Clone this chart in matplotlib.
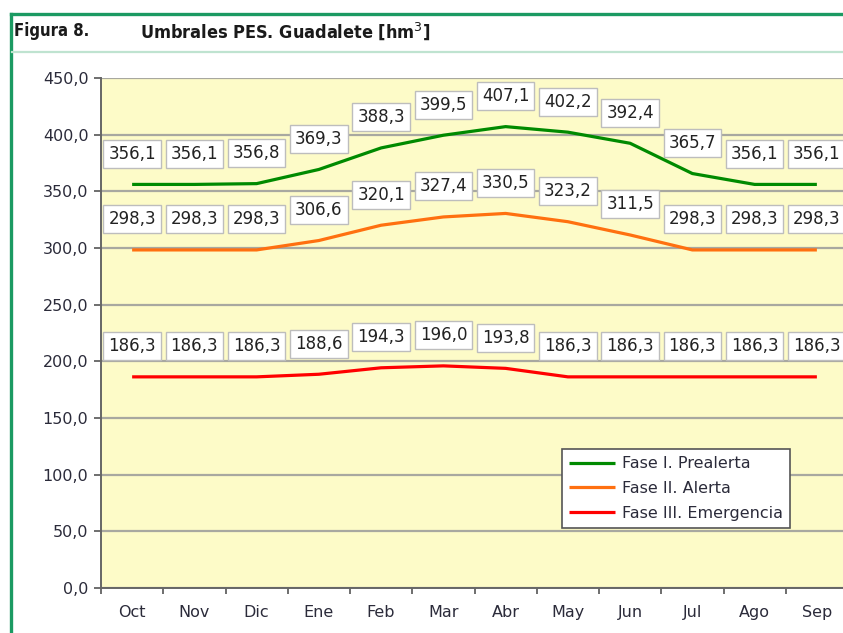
import matplotlib.pyplot as plt
from matplotlib.lines import Line2D

months = ["Oct", "Nov", "Dic", "Ene", "Feb", "Mar", "Abr", "May", "Jun", "Jul", "Ago", "Sep"]
prealerta = [356.1, 356.1, 356.8, 369.3, 388.3, 399.5, 407.1, 402.2, 392.4, 365.7, 356.1, 356.1]
alerta = [298.3, 298.3, 298.3, 306.6, 320.1, 327.4, 330.5, 323.2, 311.5, 298.3, 298.3, 298.3]
emergencia = [186.3, 186.3, 186.3, 188.6, 194.3, 196.0, 193.8, 186.3, 186.3, 186.3, 186.3, 186.3]

series = [
    ("Fase I. Prealerta", prealerta, "#008a00"),
    ("Fase II. Alerta", alerta, "#ff7010"),
    ("Fase III. Emergencia", emergencia, "#ff0000"),
]

fig = plt.figure(figsize=(8.43, 6.33), dpi=100)
fig.patch.set_facecolor("white")

# frame and header of the figure
frame = "#1b9a62"
fig.add_artist(Line2D([11 / 843, 11 / 843], [0, 1 - 14 / 633], color=frame, lw=2.4))
fig.add_artist(Line2D([11 / 843, 1], [1 - 14 / 633, 1 - 14 / 633], color=frame, lw=2.4))
fig.add_artist(Line2D([12 / 843, 1], [1 - 52 / 633, 1 - 52 / 633], color="#bfe3d0", lw=1.6))
fig.text(14 / 843, 1 - 31 / 633, "Figura 8.", weight="bold", fontstretch="condensed",
         fontsize=12, va="center", color="#1a1a1a")
fig.text(140 / 843, 1 - 31 / 633, "Umbrales PES. Guadalete [hm$^3$]",
         weight="bold", fontstretch="condensed", fontsize=13, va="center", color="#1a1a1a")

ax = fig.add_axes([101 / 843, 1 - 588 / 633, 747 / 843, 510 / 633])
ax.set_facecolor("#fdfbc8")
x = list(range(len(months)))

for name, vals, col in series:
    ax.plot(x, vals, color=col, lw=2.3, label=name, zorder=3, solid_capstyle="butt")
    for xi, v in zip(x, vals):
        ax.annotate(f"{v:.1f}".replace(".", ","), (xi, v), xytext=(0, 22),
                    textcoords="offset points", ha="center", va="center",
                    fontsize=12, color="#222222", zorder=5,
                    bbox=dict(boxstyle="square,pad=0.3", fc="white", ec="#bdbdbd", lw=1))

ax.set_xlim(-0.5, len(months) - 0.5)
ax.set_ylim(0, 450)
ax.set_yticks(range(0, 451, 50))
ax.set_yticklabels([f"{v},0" for v in range(0, 451, 50)])
ax.set_xticks(x)
ax.set_xticklabels(months)
ax.set_xticks([i - 0.5 for i in range(len(months) + 1)], minor=True)
ax.tick_params(axis="x", which="major", length=0, pad=12, labelsize=11.5, labelcolor="#2b2b3a")
ax.tick_params(axis="x", which="minor", length=4, width=1.2, color="#555555")
ax.tick_params(axis="y", length=5, width=1.2, color="#555555", pad=4,
               labelsize=11.5, labelcolor="#2b2b3a")
ax.grid(axis="y", color="#a8a8a0", lw=1.6, zorder=0)
ax.set_axisbelow(True)
for side in ("top", "right"):
    ax.spines[side].set_visible(False)
for side in ("left", "bottom"):
    ax.spines[side].set_color("#666666")
    ax.spines[side].set_linewidth(1.4)

leg = ax.legend(loc="upper left", bbox_to_anchor=(0.617, 0.272), frameon=True,
                fancybox=False, framealpha=1, fontsize=11.5, handlelength=2.9,
                borderpad=0.45, labelspacing=0.6, handletextpad=0.4, borderaxespad=0)
leg.get_frame().set_edgecolor("#555555")
leg.get_frame().set_linewidth(1.2)
for t in leg.get_texts():
    t.set_color("#2b2b3a")

fig.savefig("out.png", dpi=100)
